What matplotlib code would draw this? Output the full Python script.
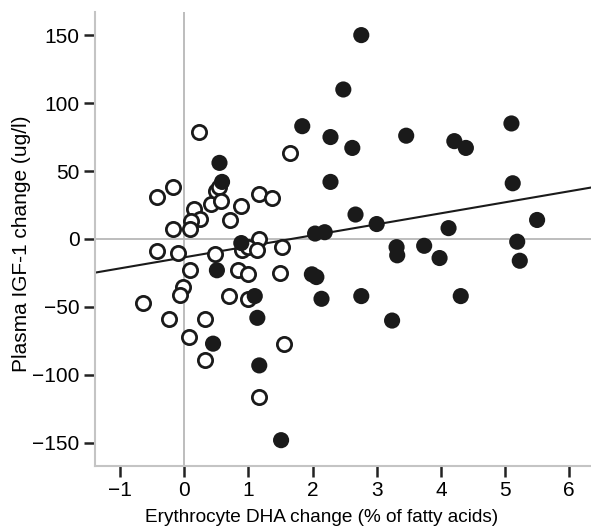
import matplotlib
matplotlib.use('Agg')
import matplotlib.pyplot as plt
import numpy as np

plt.rcParams['font.family'] = ['Liberation Sans', 'DejaVu Sans']

# open circles (first group)
open_x = [0.23, 1.65, -0.43, -0.17, 0.16, 0.24, 0.11, 0.09, -0.17, 0.42,
          0.50, 0.55, 0.58, 0.71, 0.89, 1.17, 1.37, 1.16, -0.43, -0.09,
          0.48, 0.90, 1.00, 1.13, 1.53,
          0.09, -0.02, -0.06, -0.64, -0.24, 0.33, 0.08, 0.32, 0.84, 1.00,
          0.70, 0.99, 1.50, 1.56, 1.16]
open_y = [79, 63, 31, 38, 22, 15, 13, 7, 7, 26,
          35, 38, 28, 14, 24, 33, 30, 0, -9, -10,
          -11, -8, -6, -8, -6,
          -23, -35, -41, -47, -59, -59, -72, -89, -23, -26,
          -42, -44, -25, -77, -116]

# filled circles (second group)
fill_x = [2.76, 2.48, 1.84, 2.28, 2.62, 3.46, 4.21, 4.39, 5.10, 2.28,
          5.12, 2.67, 3.00, 2.04, 2.19, 4.12, 5.50, 5.19, 3.31, 3.32,
          3.74, 3.98, 5.23, 1.99, 2.06, 2.14, 2.76, 4.31, 3.24, 1.51,
          0.55, 0.59, 0.89, 0.51, 1.10, 1.14, 0.45, 1.17]
fill_y = [150, 110, 83, 75, 67, 76, 72, 67, 85, 42,
          41, 18, 11, 4, 5, 8, 14, -2, -6, -12,
          -5, -14, -16, -26, -28, -44, -42, -42, -60, -148,
          56, 42, -3, -23, -42, -58, -77, -93]

# fitted line
fit_intercept = -13.5
fit_slope = 8.1

xlim = (-1.39, 6.34)
ylim = (-167, 167)

fig = plt.figure(figsize=(5.91, 5.29), dpi=100)
ax = fig.add_axes([95 / 591, 1 - 466 / 529, 1 - 95 / 591, (466 - 12) / 529])

ax.axhline(0, color='#b8b8b8', lw=1.3, zorder=1)
ax.axvline(0, color='#b8b8b8', lw=1.3, zorder=1)

xs = np.array(xlim)
ax.plot(xs, fit_intercept + fit_slope * xs, color='#1a1a1a', lw=1.5, zorder=2)

ax.scatter(open_x, open_y, s=105, facecolors='white', edgecolors='#1a1a1a',
           linewidths=2.0, zorder=3)
ax.scatter(fill_x, fill_y, s=135, color='#1a1a1a', edgecolors='none', zorder=4)

ax.set_xlim(xlim)
ax.set_ylim(ylim)
ax.set_xticks(range(-1, 7))
ax.set_xticklabels(['\u22121', '0', '1', '2', '3', '4', '5', '6'])
ax.set_yticks([-150, -100, -50, 0, 50, 100, 150])
ax.set_yticklabels(['\u2212150', '\u2212100', '\u221250', '0', '50', '100', '150'])

for s in ['top', 'right']:
    ax.spines[s].set_visible(False)
for s in ['left', 'bottom']:
    ax.spines[s].set_color('#c4c4c4')
    ax.spines[s].set_linewidth(1.5)

ax.tick_params(axis='both', length=8, width=1.8, color='#222222',
               labelsize=15, pad=3)

ax.set_xlabel('Erythrocyte DHA change (% of fatty acids)', fontsize=13.7)
ax.xaxis.set_label_coords(0.456, -0.094)
ax.set_ylabel('Plasma IGF-1 change (ug/l)', fontsize=15)
ax.yaxis.set_label_coords(-0.13, 0.49)

fig.savefig('out.png', dpi=100)
